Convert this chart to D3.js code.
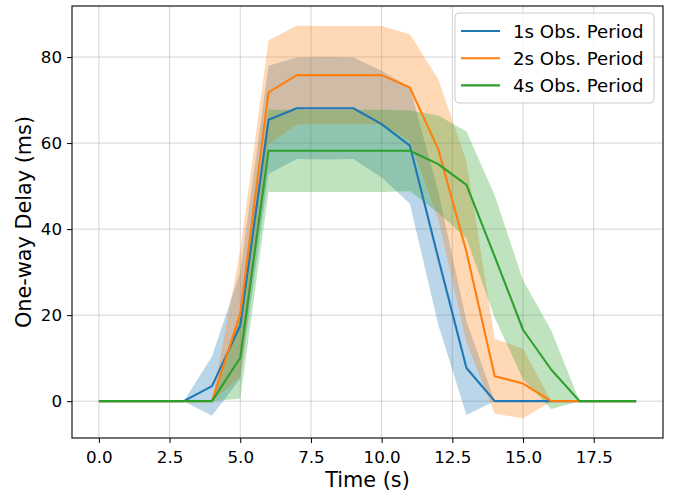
<!DOCTYPE html>
<html>
<head>
<meta charset="utf-8">
<script src="https://cdn.jsdelivr.net/npm/d3@7"></script>
<style>
  body { margin: 0; background: #fff; }
  svg { font-family: "DejaVu Sans", sans-serif; }
</style>
</head>
<body>
<svg></svg>
<script>
var times = [0,1,2,3,4,5,6,7,8,9,10,11,12,13,14,15,16,17,18,19];

var mean1s = [0,0,0,0,3.5,17.6,65.4,68.1,68.1,68.1,64.4,59.4,33.3,7.7,0,0,0,0,0,0];
var std1s  = [0,0,0,0,6.9,12.4,12.6,11.8,11.9,11.8,12.4,13.5,15.5,10.9,0,0,0,0,0,0];

var mean2s = [0,0,0,0,0,20.3,71.8,75.8,75.8,75.8,75.8,72.9,58.6,34.7,5.8,4.1,0,0,0,0];
var std2s  = [0,0,0,0,0,14.7,12.1,11.5,11.4,11.4,11.4,12.4,16.3,21,8.7,8.1,0,0,0,0];

var mean4s = [0,0,0,0,0,10.1,58.2,58.2,58.2,58.2,58.2,58.2,55.1,50.3,33.6,16.6,7.3,0,0,0];
var std4s  = [0,0,0,0,0,9.5,9.55,9.55,9.55,9.55,9.55,9.4,11.3,12.4,14.2,11.5,9.1,0,0,0];

var seriesNames = ['1s Obs. Period', '2s Obs. Period', '4s Obs. Period'];
var xTicks = [0, 2.5, 5, 7.5, 10, 12.5, 15, 17.5];
var yTicks = [0, 20, 40, 60, 80];

var colors = ['#1f77b4', '#ff7f0e', '#2ca02c'];

var series = [
  {name: seriesNames[0], mean: mean1s, std: std1s},
  {name: seriesNames[1], mean: mean2s, std: std2s},
  {name: seriesNames[2], mean: mean4s, std: std4s}
];
series.forEach(function(s){
  s.pts = times.map(function(t, i){
    return {t: t, m: s.mean[i], lo: s.mean[i] - s.std[i], hi: s.mean[i] + s.std[i]};
  });
});

var width = 677, height = 496;
var padding = {left: 72, right: 14, top: 6, bottom: 58};

var svg = d3.select('svg').attr('width', width).attr('height', height);

// matplotlib style 5% margins
var tExt = d3.extent(times);
var tPad = (tExt[1] - tExt[0]) * 0.05;
var lo = d3.min(series, s => d3.min(s.pts, d => d.lo));
var hi = d3.max(series, s => d3.max(s.pts, d => d.hi));
var vPad = (hi - lo) * 0.05;

var xScale = d3.scaleLinear()
  .domain([tExt[0] - tPad, tExt[1] + tPad])
  .range([padding.left, width - padding.right]);
var yScale = d3.scaleLinear()
  .domain([lo - vPad, hi + vPad])
  .range([height - padding.bottom, padding.top]);

var x0 = padding.left, x1 = width - padding.right;
var y0 = height - padding.bottom, y1 = padding.top;

// grid
svg.append('g').selectAll('line').data(xTicks).enter().append('line')
  .attr('x1', d => xScale(d)).attr('x2', d => xScale(d))
  .attr('y1', y0).attr('y2', y1)
  .attr('stroke', '#b0b0b0').attr('stroke-opacity', 0.55).attr('stroke-width', 1);
svg.append('g').selectAll('line').data(yTicks).enter().append('line')
  .attr('x1', x0).attr('x2', x1)
  .attr('y1', d => yScale(d)).attr('y2', d => yScale(d))
  .attr('stroke', '#b0b0b0').attr('stroke-opacity', 0.55).attr('stroke-width', 1);

var area = d3.area()
  .x(d => xScale(d.t))
  .y0(d => yScale(d.lo))
  .y1(d => yScale(d.hi));
var line = d3.line()
  .x(d => xScale(d.t))
  .y(d => yScale(d.m));

svg.append('g').selectAll('path').data(series).enter().append('path')
  .attr('d', d => area(d.pts))
  .attr('fill', (d, i) => colors[i])
  .attr('fill-opacity', 0.3);

svg.append('g').selectAll('path').data(series).enter().append('path')
  .attr('d', d => line(d.pts))
  .attr('fill', 'none')
  .attr('stroke', (d, i) => colors[i])
  .attr('stroke-width', 2.1)
  .attr('stroke-linejoin', 'round');

//x-axis
var xAxis = svg.append('g')
  .attr('transform', 'translate(0,' + y0 + ')')
  .call(d3.axisBottom(xScale).tickValues(xTicks).tickFormat(d3.format('.1f')).tickSize(5).tickPadding(8).tickSizeOuter(0));
xAxis.select('.domain').remove();
xAxis.selectAll('text').attr('font-size', '16.7px').attr('fill', '#000').attr('font-family', 'DejaVu Sans');
xAxis.selectAll('line').attr('stroke', '#000');

//y-axis
var yAxis = svg.append('g')
  .attr('transform', 'translate(' + x0 + ',0)')
  .call(d3.axisLeft(yScale).tickValues(yTicks).tickSize(5).tickPadding(5).tickSizeOuter(0));
yAxis.select('.domain').remove();
yAxis.selectAll('text').attr('font-size', '16.7px').attr('fill', '#000').attr('font-family', 'DejaVu Sans');
yAxis.selectAll('line').attr('stroke', '#000');

// frame
svg.append('rect')
  .attr('x', x0).attr('y', y1)
  .attr('width', x1 - x0).attr('height', y0 - y1)
  .attr('fill', 'none').attr('stroke', '#000').attr('stroke-width', 1.1);

svg.append('text')
  .attr('text-anchor', 'middle')
  .attr('x', (x0 + x1) / 2)
  .attr('y', 487)
  .attr('font-size', '20.8px')
  .text('Time (s)');

svg.append('text')
  .attr('text-anchor', 'middle')
  .attr('transform', 'translate(31,' + ((y0 + y1) / 2) + ') rotate(-90)')
  .attr('font-size', '20.8px')
  .text('One-way Delay (ms)');

// legend
var legend = svg.append('g').attr('transform', 'translate(455,13)');
legend.append('rect')
  .attr('width', 199).attr('height', 90).attr('rx', 4)
  .attr('fill', '#fff').attr('fill-opacity', 0.8)
  .attr('stroke', '#cccccc').attr('stroke-width', 1);
var rows = legend.selectAll('g.row').data(series).enter().append('g')
  .attr('class', 'row')
  .attr('transform', (d, i) => 'translate(0,' + (18 + i * 27.2) + ')');
rows.append('line')
  .attr('x1', 6).attr('x2', 45)
  .attr('stroke', (d, i) => colors[i]).attr('stroke-width', 2.1);
rows.append('text')
  .attr('x', 58).attr('dy', '0.36em')
  .attr('font-size', '18.2px')
  .text(d => d.name);
</script>
</body>
</html>
